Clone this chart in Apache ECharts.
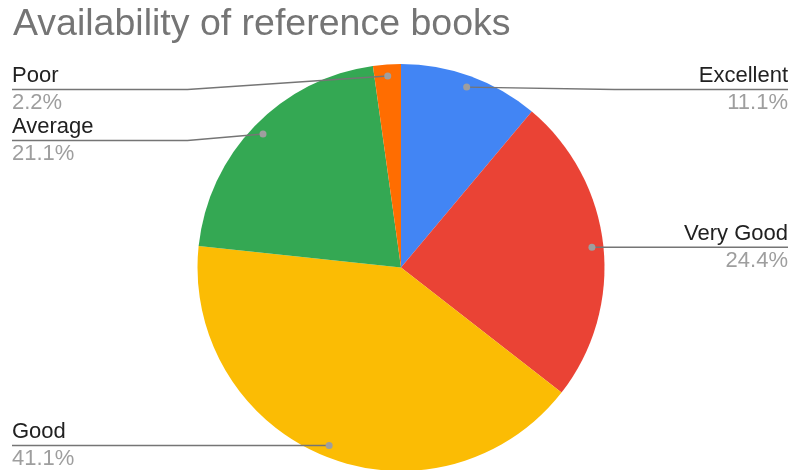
<!DOCTYPE html>
<html>
<head>
<meta charset="utf-8">
<script src="https://cdn.jsdelivr.net/npm/echarts@6/dist/echarts.min.js"></script>
<style>
html,body{margin:0;padding:0;background:#fff;}
#chart{width:792px;height:470px;}
</style>
</head>
<body>
<div id="chart"></div>
<script>
// ---- data ----
const titleText = 'Availability of reference books';
const categories = ['Excellent', 'Very Good', 'Good', 'Average', 'Poor'];
const percentValues = [11.1, 24.4, 41.1, 21.1, 2.2];
const sliceColors = ['#4285F4', '#EA4335', '#FBBC04', '#34A853', '#FF6D01'];

// ---- geometry (layout settings) ----
const CX = 401, CY = 267.5, R = 203.5;
const DOT_R = 192;
const MIN_LINE_Y = 89.5, LABEL_GAP = 51;
const LEFT_X = 12, RIGHT_X = 788;
const FONT = 'Liberation Sans, Arial, sans-serif';

const total = percentValues.reduce((a, b) => a + b, 0);
// mid-angles (clockwise from top) and label line anchor points
const anchors = [];
let cum = 0;
percentValues.forEach((v, i) => {
  const a = (cum + v / 2) / total * 2 * Math.PI;
  cum += v;
  anchors.push({
    i: i,
    dx: CX + DOT_R * Math.sin(a),
    dy: CY - DOT_R * Math.cos(a),
    side: Math.sin(a) >= 0 ? 'right' : 'left'
  });
});
// resolve vertical overlap per side
['left', 'right'].forEach(side => {
  const list = anchors.filter(p => p.side === side).sort((a, b) => a.dy - b.dy);
  let prev = -Infinity;
  list.forEach(p => {
    p.ly = Math.max(p.dy, MIN_LINE_Y, prev + LABEL_GAP);
    prev = p.ly;
  });
});

const pieData = categories.map((c, i) => ({
  name: c, value: percentValues[i], itemStyle: { color: sliceColors[i] }
}));
const ghostData = categories.map((c, i) => ({ name: c, value: percentValues[i] }));

const chart = echarts.init(document.getElementById('chart'));
chart.setOption({
  animation: false,
  backgroundColor: '#ffffff',
  textStyle: { fontFamily: FONT },
  title: {
    text: titleText,
    left: 8,
    top: 1,
    textStyle: { fontSize: 37.5, fontWeight: 'normal', color: '#757575', fontFamily: FONT }
  },
  series: [
    {
      type: 'pie',
      center: [CX, CY],
      radius: [0, R],
      startAngle: 90,
      clockwise: true,
      silent: true,
      z: 2,
      data: pieData,
      itemStyle: { borderWidth: 0 },
      label: { show: false },
      labelLine: { show: false },
      emphasis: { disabled: true }
    },
    {
      type: 'pie',
      center: [CX, CY],
      radius: [0, R],
      startAngle: 90,
      clockwise: true,
      silent: true,
      z: 3,
      avoidLabelOverlap: false,
      data: ghostData,
      itemStyle: { color: 'rgba(0,0,0,0)', borderWidth: 0 },
      label: {
        show: true,
        position: 'outer',
        overflow: 'none',
        formatter: p => '{n|' + p.name + '}\n{p|' + p.value.toFixed(1) + '%}',
        rich: {
          n: { fontSize: 22, lineHeight: 27, color: '#212121', fontFamily: FONT },
          p: { fontSize: 22, lineHeight: 27, color: '#9e9e9e', fontFamily: FONT }
        }
      },
      labelLine: {
        show: true,
        length: 10,
        length2: 10,
        lineStyle: { color: '#757575', width: 1.4 }
      },
      labelLayout: function (params) {
        const p = anchors[params.dataIndex];
        const right = p.side === 'right';
        const edgeX = right ? RIGHT_X : LEFT_X;
        const elbowX = right ? CX + R + 10 : CX - R - 10;
        return {
          x: edgeX,
          y: p.ly,
          align: right ? 'right' : 'left',
          verticalAlign: 'middle',
          labelLinePoints: [[p.dx, p.dy], [elbowX, p.ly], [edgeX, p.ly]]
        };
      },
      emphasis: { disabled: true }
    },
    {
      type: 'pie',
      center: [CX, CY],
      radius: [0, R],
      startAngle: 90,
      clockwise: true,
      silent: true,
      z: 4,
      data: ghostData,
      itemStyle: { color: 'rgba(0,0,0,0)', borderWidth: 0 },
      label: {
        show: true,
        position: 'inside',
        formatter: '{d| }',
        rich: { d: { width: 7, height: 7, borderRadius: 3.5, backgroundColor: '#9e9e9e', fontSize: 1, lineHeight: 7, padding: 0 } }
      },
      labelLine: { show: false },
      labelLayout: function (params) {
        const p = anchors[params.dataIndex];
        return { x: p.dx, y: p.dy, align: 'center', verticalAlign: 'middle' };
      },
      emphasis: { disabled: true }
    }
  ]
});
</script>
</body>
</html>
